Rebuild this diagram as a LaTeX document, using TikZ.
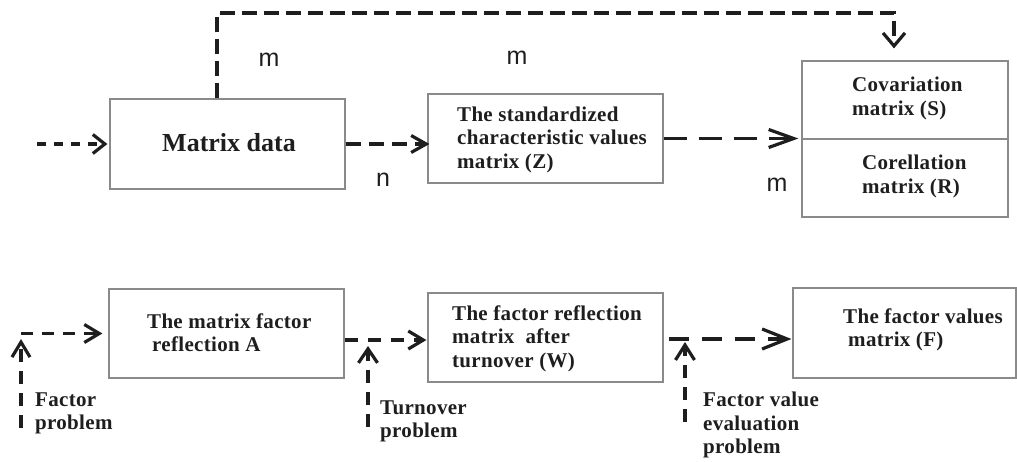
\documentclass[tikz,border=0pt]{standalone}
\usepackage{fontspec}
\setmainfont{Liberation Serif}
\setsansfont{Liberation Sans}
\usetikzlibrary{arrows.meta,calc}
\definecolor{boxgray}{HTML}{8A8A8A}
\definecolor{ink}{HTML}{1E1E1E}
\newfontfamily\boxfont[LetterSpace=1.5]{Liberation Serif}
\begin{document}
\begin{tikzpicture}[x=1pt,y=-1pt,
  box/.style={draw=boxgray, line width=1.2pt, inner sep=0pt, fill=none},
  txt/.style={inner sep=0pt, align=left, text=ink, anchor=west,
    font=\boxfont\fontsize{21}{23.5}\selectfont\bfseries},
  lbl/.style={inner sep=0pt, text=ink, font=\fontsize{25}{25}\selectfont\sffamily},
  flow/.style={draw=ink, line width=3.2pt},
  chev/.style n args={2}{-{Straight Barb[length=#1pt,width=#2pt]}}
]
\useasboundingbox (0,0) rectangle (1017,461);

% boxes of the upper row
\node[box, minimum width=235pt, minimum height=90pt] (matrix) at (227.5,144) {};
\node[box, minimum width=235pt, minimum height=89pt] (z) at (545.5,138.5) {};
\node[box, minimum width=206pt, minimum height=78pt] (cov) at (905,100) {};
\node[box, minimum width=206pt, minimum height=78pt] (cor) at (905,178) {};

% boxes of the lower row
\node[box, minimum width=235pt, minimum height=89pt] (a) at (226.5,333.5) {};
\node[box, minimum width=235pt, minimum height=89pt] (w) at (545.5,337.5) {};
\node[box, minimum width=223pt, minimum height=90pt] (f) at (904.5,333) {};

% box texts
\node[txt, anchor=center, font=\fontsize{26}{28}\selectfont\bfseries] (matrixtxt) at (229,143) {Matrix data};
\node[txt] (ztxt) at (457,139.5) {The standardized\\characteristic values\\matrix (Z)};
\node[txt] (covtxt) at (852,98.5) {Covariation\\matrix (S)};
\node[txt] (cortxt) at (862,176.5) {Corellation\\matrix (R)};
\node[txt] (atxt) at (147,332.5) {The matrix factor\\\hspace{5pt}reflection A};
\node[txt] (wtxt) at (452,338.5) {The factor reflection\\matrix\ \ after\\turnover (W)};
\node[txt] (ftxt) at (843,330) {The factor values\\\hspace{5pt}matrix (F)};

% dimension letters
\node[lbl] (m1) at (269,60) {m};
\node[lbl] (m2) at (517,58) {m};
\node[lbl] (n1) at (383,180) {n};
\node[lbl] (m3) at (777,185) {m};

% problem labels
\node[txt] (fpl) at (35,413.5) {Factor\\problem};
\node[txt] (tpl) at (380,421.5) {Turnover\\problem};
\node[txt] (vpl) at (703,425) {Factor value\\evaluation\\problem};

% free ends of connectors
\coordinate (inStart) at (37,144);
\coordinate (loopL) at (217,13);
\coordinate (loopR) at (894,13);
\coordinate (fpBase) at (21,428);
\coordinate (fpTip) at (21,339);
\coordinate (tpBase) at (368,427);
\coordinate (tpTip) at (368,346);
\coordinate (vpBase) at (685,422);
\coordinate (vpTip) at (685,342);

% upper row connectors
\draw[flow, dash pattern=on 9pt off 8pt, chev={12}{19}, shorten >=2pt]
  (inStart) -- (matrix.west);
\draw[flow, dash pattern=on 15pt off 8pt, chev={15}{17}, shorten >=-2pt]
  (matrix.east) -- (matrix.east -| z.west);
\draw[flow, dash pattern=on 23pt off 12pt, chev={25}{18}, shorten >=3pt]
  (z.east) -- (z.east -| cov.west);
\draw[flow, dash pattern=on 15pt off 7pt, chev={13}{22}, shorten >=12pt]
  (matrix.north -| loopL) -- (loopL) -- (loopR) -- (cov.north -| loopR);

% lower row connectors
\draw[flow, dash pattern=on 12pt off 9pt, chev={15}{18}, shorten >=6pt]
  (a.west -| fpBase) -- (a.west);
\draw[flow, dash pattern=on 13pt off 9pt, chev={15}{18}]
  (fpBase) -- (fpTip);
\draw[flow, dash pattern=on 13pt off 10pt, chev={15}{18}, shorten >=1pt]
  (a.east |- 0,340) -- (w.west |- 0,340);
\draw[flow, dash pattern=on 13pt off 9pt, chev={14}{19}]
  (tpBase) -- (tpTip);
\draw[flow, dash pattern=on 20pt off 13pt, chev={25}{20}, shorten <=5pt, shorten >=1pt]
  (w.east |- 0,339) -- (f.west |- 0,339);
\draw[flow, dash pattern=on 13pt off 9pt, chev={15}{19}]
  (vpBase) -- (vpTip);
\end{tikzpicture}
\end{document}
